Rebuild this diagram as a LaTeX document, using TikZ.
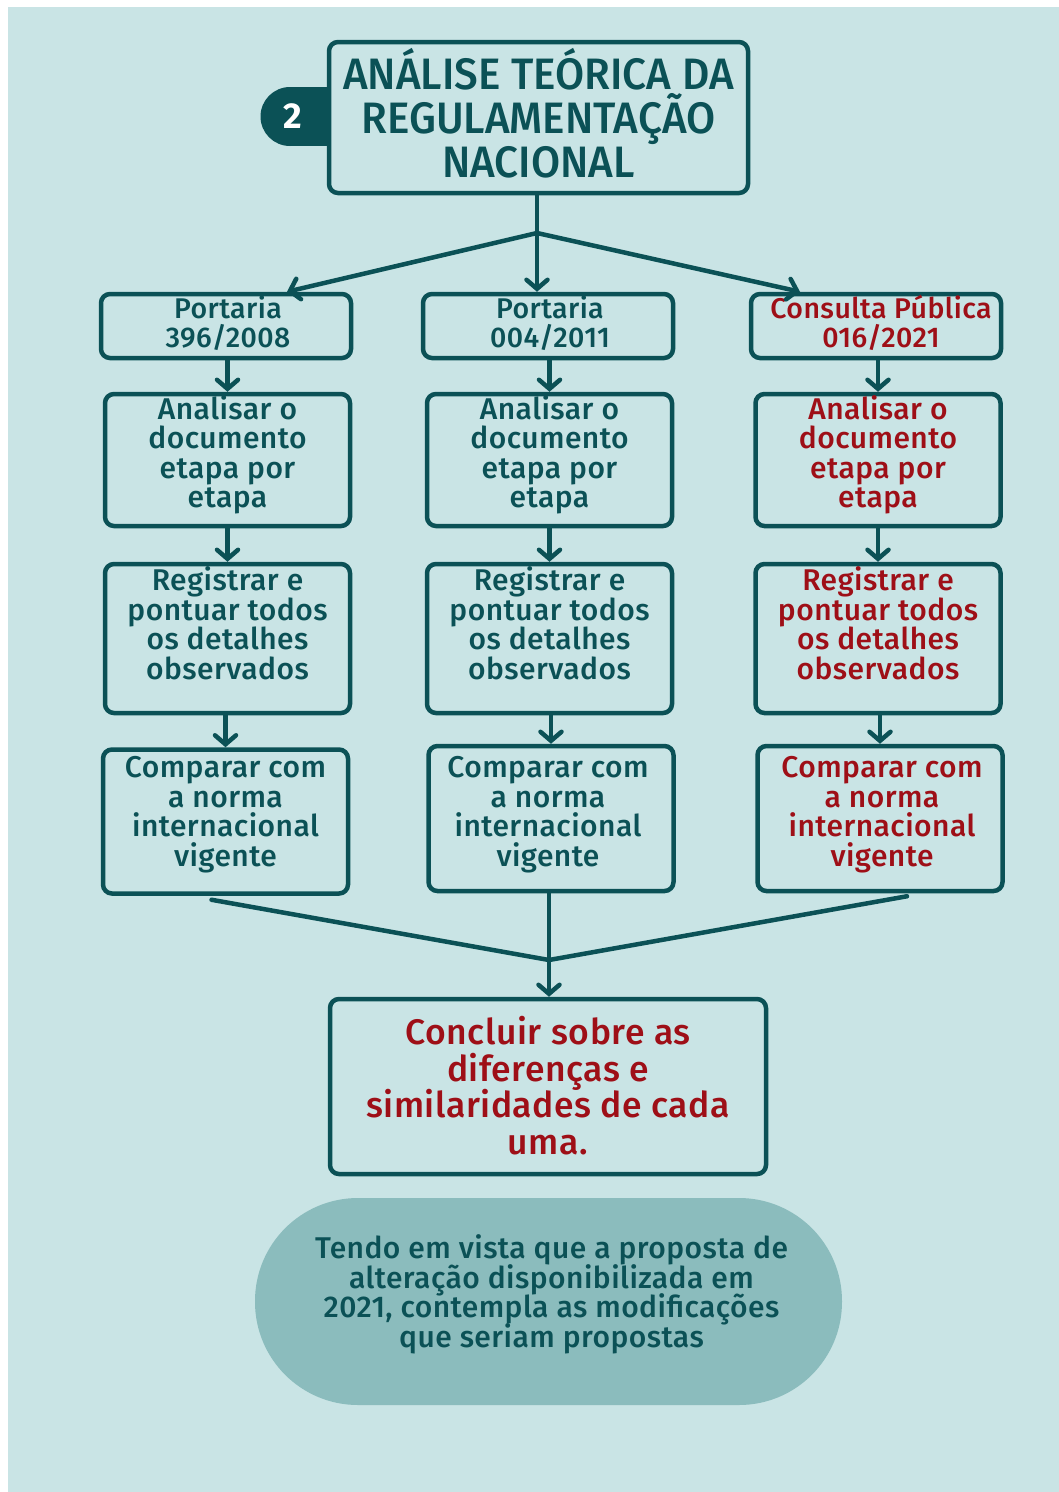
\documentclass[tikz,border=0pt]{standalone}
\usepackage{fontspec}
\setmainfont{Fira Sans}[UprightFont=* Medium, BoldFont=* Bold, LetterSpace=1.5]
\newfontfamily\headfont{Fira Sans}[UprightFont=* Medium, FakeStretch=0.96]
\usetikzlibrary{arrows.meta,calc}

\definecolor{bgteal}{HTML}{C9E4E5}
\definecolor{dk}{HTML}{0B5156}
\definecolor{rd}{HTML}{9E0F17}
\definecolor{pillfill}{HTML}{8BBCBD}

% tight, fixed line spacing for the multi-line labels
\newcommand\tightsize[2]{\fontsize{#1}{#2}\selectfont\lineskiplimit=-30pt\lineskip=0pt}

\tikzset{
  box/.style={draw=dk, line width=4.5pt, rounded corners=9pt, inner sep=0pt},
  txt/.style={align=center, inner sep=0pt, text=dk, font=\tightsize{30}{29.5}},
  redtext/.style={text=rd},
  link/.style={draw=dk, line width=4.5pt, line cap=round},
  arr/.style={link, -{Straight Barb[length=9pt,width=21pt,line cap=round]}},
  top/.style={minimum width=250pt, minimum height=64pt},
  toptext/.style={font=\tightsize{28.5}{29}},
  stepA/.style={minimum width=245pt, minimum height=132pt},
  stepB/.style={minimum width=245pt, minimum height=149pt},
  stepC/.style={minimum width=245pt, minimum height=144pt},
}

% a framed box and its text: name, box style, centre, text style, text offset, text
\newcommand\cellbox[6]{%
  \node[box,#2] (#1) at (#3) {};
  \node[txt,#4] (#1t) at ($(#1.center)+(0,#5)$) {#6};
}

\begin{document}
\begin{tikzpicture}[x=1pt,y=-1pt]
\useasboundingbox (0,0) rectangle (1059,1492);
\fill[white] (0,0) rectangle (1059,1492);
\fill[bgteal] (8,7) rectangle (1059,1492);

% numbered tab behind the heading
\fill[dk] (290,116.5) circle[radius=29.5];
\fill[dk] (290,87) rectangle (335,146);
\node[text=white, font=\bfseries\fontsize{36}{36}\selectfont] (num) at (293,116) {2};

% heading
\node[box, fill=bgteal, minimum width=419pt, minimum height=151pt] (title) at (538.5,117.5) {};
\node[txt, font=\headfont\tightsize{44}{44}] (titlet) at ($(title.center)+(0,-4)$)
  {ANÁLISE TEÓRICA DA\\REGULAMENTAÇÃO\\NACIONAL};

% first row: documents
\cellbox{p1}{top}{226,326}{toptext, xshift=2pt}{-3}{Portaria\\396/2008}
\cellbox{p2}{top}{548,326}{toptext, xshift=2pt}{-3}{Portaria\\004/2011}
\cellbox{p3}{top}{876,326}{toptext, redtext, xshift=5pt}{-3}{Consulta Pública\\016/2021}

% second row
\cellbox{a1}{stepA}{227.5,460}{}{-5}{Analisar o\\documento\\etapa por\\etapa}
\cellbox{a2}{stepA}{549.5,460}{}{-5}{Analisar o\\documento\\etapa por\\etapa}
\cellbox{a3}{stepA}{878,460}{redtext}{-5}{Analisar o\\documento\\etapa por\\etapa}

% third row
\cellbox{r1}{stepB}{227.5,638.5}{}{-15}{Registrar e\\pontuar todos\\os detalhes\\observados}
\cellbox{r2}{stepB}{549.5,638.5}{}{-15}{Registrar e\\pontuar todos\\os detalhes\\observados}
\cellbox{r3}{stepB}{878,638.5}{redtext}{-15}{Registrar e\\pontuar todos\\os detalhes\\observados}

% fourth row
\cellbox{c1}{stepC}{225.5,821.5}{}{-7}{Comparar com\\a norma\\internacional\\vigente}
\cellbox{c2}{stepC, minimum height=145pt}{551,818.5}{xshift=-3pt}{-4}{Comparar com\\a norma\\internacional\\vigente}
\cellbox{c3}{stepC, minimum height=145pt}{880,818.5}{redtext, xshift=2pt}{-4}{Comparar com\\a norma\\internacional\\vigente}

% conclusion
\cellbox{concl}{minimum width=436pt, minimum height=175pt}{548,1086.5}
  {redtext, font=\tightsize{35.5}{36.5}}{-1}
  {Concluir sobre as\\diferenças e\\similaridades de cada\\uma.}

% closing note
\node[fill=pillfill, rounded corners=103pt, minimum width=587pt, minimum height=207pt] (note) at (548.5,1301.5) {};
\node[txt] (notet) at ($(note.center)+(3,-7)$)
  {Tendo em vista que a proposta de\\alteração disponibilizada em\\2021, contempla as modificações\\que seriam propostas};

% fork below the heading
\coordinate (fork) at (537,233);
\draw[link] (title.south -| fork) -- (fork);
\draw[arr] (fork) -- ($(p1.north)+(61,0)$);
\draw[arr] (fork) -- (p2.north -| fork);
\draw[arr] (fork) -- ($(p3.north)+(-76,0)$);

% column arrows
\foreach \u/\v in {p1/a1,p2/a2,p3/a3,a1/r1,a2/r2,a3/r3,r1/c1,r2/c2,r3/c3}{
  \draw[arr] (\u.south -| \v.north) -- (\v.north);
}

% merge into the conclusion
\coordinate (merge) at (549,960);
\draw[link] ($(c1.south)+(-14,4)$) -- (merge);
\draw[link] ($(c3.south)+(27,3)$) -- (merge);
\draw[arr] (c2.south -| merge) -- (concl.north -| merge);
\end{tikzpicture}
\end{document}
